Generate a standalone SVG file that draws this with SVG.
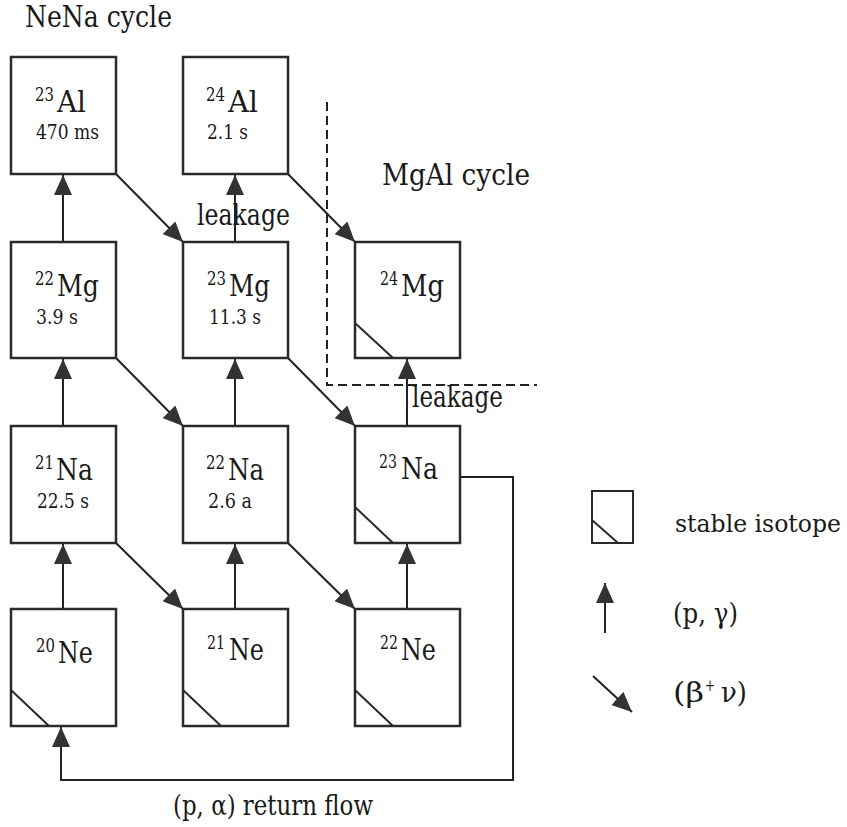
<svg xmlns="http://www.w3.org/2000/svg" width="847" height="827" viewBox="0 0 847 827">
<style>
.box{fill:#fff;stroke:#2a2a2a;stroke-width:2.5}
.stab{stroke:#2a2a2a;stroke-width:2;fill:none}
.lbl{font-size:29px}
.sup{font-size:18px}
.hl{font-size:20px}
.big{font-size:29px}
.con{stroke:#222;stroke-width:2;fill:none;marker-end:url(#ah)}
.dash{stroke:#222;stroke-width:2;stroke-dasharray:9,5;fill:none}
</style>
<defs>
<marker id="ah" viewBox="0 0 20 18" refX="20" refY="9" markerWidth="20" markerHeight="18" markerUnits="userSpaceOnUse" orient="auto"><path d="M0,0 L20,9 L0,18 z" fill="#333"/></marker>
</defs>
<rect width="847" height="827" fill="#fff"/>
<g font-family="'DejaVu Serif', serif" fill="#1a1a1a">

<text class="big" x="25" y="27" textLength="147" lengthAdjust="spacingAndGlyphs">NeNa cycle</text>
<text class="big" x="382" y="185" textLength="148" lengthAdjust="spacingAndGlyphs">MgAl cycle</text>

<g id="Al23"><rect class="box" x="11" y="57" width="105" height="117"/>
<text class="sup" x="35" y="101" textLength="19" lengthAdjust="spacingAndGlyphs">23</text>
<text class="lbl" x="57" y="112" textLength="29" lengthAdjust="spacingAndGlyphs">Al</text>
<text class="hl" x="36" y="139" textLength="63" lengthAdjust="spacingAndGlyphs">470 ms</text></g>

<g id="Al24"><rect class="box" x="183" y="57" width="105" height="117"/>
<text class="sup" x="206" y="101" textLength="19" lengthAdjust="spacingAndGlyphs">24</text>
<text class="lbl" x="228" y="112" textLength="30" lengthAdjust="spacingAndGlyphs">Al</text>
<text class="hl" x="207" y="139" textLength="41" lengthAdjust="spacingAndGlyphs">2.1 s</text></g>

<g id="Mg22"><rect class="box" x="11" y="242" width="105" height="116"/>
<text class="sup" x="35" y="285" textLength="19" lengthAdjust="spacingAndGlyphs">22</text>
<text class="lbl" x="57" y="296" textLength="42" lengthAdjust="spacingAndGlyphs">Mg</text>
<text class="hl" x="36" y="324" textLength="42" lengthAdjust="spacingAndGlyphs">3.9 s</text></g>

<g id="Mg23"><rect class="box" x="183" y="242" width="105" height="116"/>
<text class="sup" x="207" y="285" textLength="19" lengthAdjust="spacingAndGlyphs">23</text>
<text class="lbl" x="229" y="296" textLength="41" lengthAdjust="spacingAndGlyphs">Mg</text>
<text class="hl" x="209" y="324" textLength="52" lengthAdjust="spacingAndGlyphs">11.3 s</text></g>

<g id="Mg24"><rect class="box" x="355" y="242" width="105" height="116"/>
<path class="stab" d="M355,323 L393,358"/>
<text class="sup" x="380" y="285" textLength="18" lengthAdjust="spacingAndGlyphs">24</text>
<text class="lbl" x="401" y="296" textLength="43" lengthAdjust="spacingAndGlyphs">Mg</text></g>

<g id="Na21"><rect class="box" x="11" y="426" width="105" height="117"/>
<text class="sup" x="35" y="469" textLength="19" lengthAdjust="spacingAndGlyphs">21</text>
<text class="lbl" x="56" y="480" textLength="37" lengthAdjust="spacingAndGlyphs">Na</text>
<text class="hl" x="37" y="508" textLength="52" lengthAdjust="spacingAndGlyphs">22.5 s</text></g>

<g id="Na22"><rect class="box" x="183" y="426" width="105" height="117"/>
<text class="sup" x="206" y="469" textLength="19" lengthAdjust="spacingAndGlyphs">22</text>
<text class="lbl" x="228" y="480" textLength="36" lengthAdjust="spacingAndGlyphs">Na</text>
<text class="hl" x="208" y="508" textLength="44" lengthAdjust="spacingAndGlyphs">2.6 a</text></g>

<g id="Na23"><rect class="box" x="355" y="426" width="105" height="117"/>
<path class="stab" d="M355,507 L393,543"/>
<text class="sup" x="379" y="468" textLength="18" lengthAdjust="spacingAndGlyphs">23</text>
<text class="lbl" x="401" y="479" textLength="37" lengthAdjust="spacingAndGlyphs">Na</text></g>

<g id="Ne20"><rect class="box" x="11" y="609" width="105" height="117"/>
<path class="stab" d="M11,690 L49,726"/>
<text class="sup" x="36" y="652" textLength="19" lengthAdjust="spacingAndGlyphs">20</text>
<text class="lbl" x="58" y="663" textLength="35" lengthAdjust="spacingAndGlyphs">Ne</text></g>

<g id="Ne21"><rect class="box" x="183" y="609" width="105" height="117"/>
<path class="stab" d="M183,690 L221,726"/>
<text class="sup" x="207" y="649" textLength="18" lengthAdjust="spacingAndGlyphs">21</text>
<text class="lbl" x="229" y="660" textLength="35" lengthAdjust="spacingAndGlyphs">Ne</text></g>

<g id="Ne22"><rect class="box" x="355" y="609" width="105" height="117"/>
<path class="stab" d="M355,690 L393,726"/>
<text class="sup" x="380" y="649" textLength="18" lengthAdjust="spacingAndGlyphs">22</text>
<text class="lbl" x="401" y="660" textLength="35" lengthAdjust="spacingAndGlyphs">Ne</text></g>

<g id="connectors">
<line class="con" x1="63" y1="242" x2="63" y2="175"/>
<line class="con" x1="235" y1="242" x2="235" y2="175"/>
<line class="con" x1="63" y1="426" x2="63" y2="359"/>
<line class="con" x1="235" y1="426" x2="235" y2="359"/>
<line class="con" x1="407" y1="426" x2="407" y2="359"/>
<line class="con" x1="63" y1="609" x2="63" y2="544"/>
<line class="con" x1="235" y1="609" x2="235" y2="544"/>
<line class="con" x1="407" y1="609" x2="407" y2="544"/>
<line class="con" x1="116" y1="174" x2="183" y2="242"/>
<line class="con" x1="288" y1="174" x2="355" y2="242"/>
<line class="con" x1="116" y1="358" x2="183" y2="426"/>
<line class="con" x1="288" y1="358" x2="355" y2="426"/>
<line class="con" x1="116" y1="543" x2="183" y2="609"/>
<line class="con" x1="288" y1="543" x2="355" y2="609"/>
<polyline class="con" points="461,477 513,477 513,780 61,780 61,727"/>
</g>

<path class="dash" d="M327,102 L327,385 L537,385"/>

<text class="big" x="197" y="225" textLength="93" lengthAdjust="spacingAndGlyphs">leakage</text>
<text class="big" x="412" y="407" textLength="91" lengthAdjust="spacingAndGlyphs">leakage</text>
<text x="173" y="815" font-size="28" textLength="200" lengthAdjust="spacingAndGlyphs">(p, α) return flow</text>

<g id="legend">
<rect class="box" x="592" y="491" width="41" height="52" style="stroke-width:2"/>
<path class="stab" d="M592,520 L618,543"/>
<text x="675" y="532" font-size="24" textLength="166" lengthAdjust="spacingAndGlyphs">stable isotope</text>
<line class="con" x1="605" y1="633" x2="605" y2="583"/>
<text x="673" y="623" font-size="28" textLength="65" lengthAdjust="spacingAndGlyphs">(p, γ)</text>
<line class="con" x1="593" y1="676" x2="632" y2="712"/>
<text x="673" y="702" font-size="28" textLength="31" lengthAdjust="spacingAndGlyphs">(β</text>
<text x="705" y="691" font-size="17" textLength="10" lengthAdjust="spacingAndGlyphs">+</text>
<text x="721" y="702" font-size="28" textLength="26" lengthAdjust="spacingAndGlyphs">ν)</text>
</g>
</g>
</svg>
